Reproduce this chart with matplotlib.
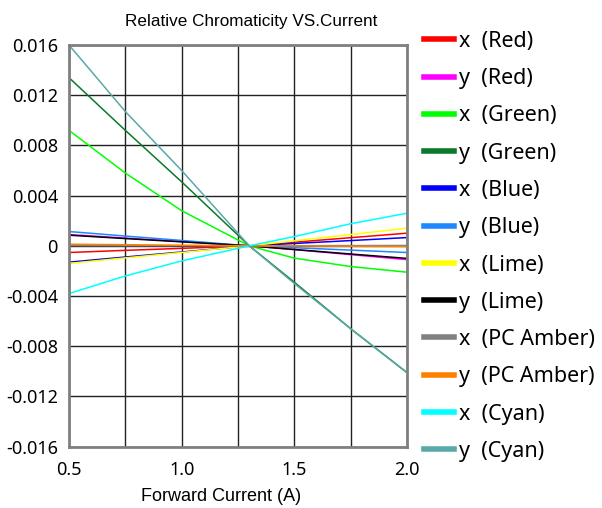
import matplotlib
matplotlib.use("Agg")
import matplotlib.pyplot as plt
from matplotlib.ticker import MultipleLocator, FixedLocator

plt.rcParams['axes.unicode_minus'] = False

# forward current (A)
current = [0.5, 0.75, 1.0, 1.3, 1.5, 1.75, 2.0]

# relative chromaticity shift
x_red = [-0.00053, -0.00036, -0.0002, 0.0, 0.00029, 0.00065, 0.00101]
y_red = [0.0009, 0.00062, 0.00034, 0.0, -0.0003, -0.0007, -0.0011]
x_green = [0.0092, 0.0058, 0.0028, 0.0, -0.00098, -0.00165, -0.0021]
y_green = [0.0134, 0.0092, 0.0051, 0.0, -0.0029, -0.0066, -0.0101]
x_blue = [-0.0013, -0.00089, -0.00049, 0.0, 0.00019, 0.00042, 0.00066]
y_blue = [0.00114, 0.00078, 0.00043, 0.0, -0.00015, -0.00034, -0.00053]
x_lime = [-0.0014, -0.00096, -0.00053, 0.0, 0.0004, 0.0009, 0.00141]
y_lime = [0.00085, 0.00058, 0.00032, 0.0, -0.00029, -0.00065, -0.001]
x_amber = [0.00002, 0.00001, 0.00001, 0.0, 0.00001, 0.00002, 0.00003]
y_amber = [0.00013, 0.00009, 0.00005, 0.0, -0.00001, -0.00003, -0.00005]
x_cyan = [-0.0038, -0.0024, -0.0012, 0.0, 0.00074, 0.00176, 0.0026]
y_cyan = [0.016, 0.0107, 0.006, 0.0, -0.003, -0.0066, -0.0101]

series = [
    ("x  (Red)", x_red, "#ff0000"),
    ("y  (Red)", y_red, "#ff00ff"),
    ("x  (Green)", x_green, "#00ff00"),
    ("y  (Green)", y_green, "#0a7a2a"),
    ("x  (Blue)", x_blue, "#0000ff"),
    ("y  (Blue)", y_blue, "#1e88ff"),
    ("x  (Lime)", x_lime, "#ffff00"),
    ("y  (Lime)", y_lime, "#000000"),
    ("x  (PC Amber)", x_amber, "#808080"),
    ("y  (PC Amber)", y_amber, "#ff8000"),
    ("x  (Cyan)", x_cyan, "#00ffff"),
    ("y  (Cyan)", y_cyan, "#5aa8a8"),
]

yticks = [0.016, 0.012, 0.008, 0.004, 0, -0.004, -0.008, -0.012, -0.016]
ytick_labels = ["0.016", "0.012", "0.008", "0.004", "0", "-0.004", "-0.008", "-0.012", "-0.016"]
xticks = [0.5, 1.0, 1.5, 2.0]
xtick_labels = ["0.5", "1.0", "1.5", "2.0"]

fig = plt.figure(figsize=(6.02, 5.08), dpi=100)
ax = fig.add_axes([0.1146, 0.1207, 0.5615, 0.7907])

for label, vals, color in series:
    ax.plot(current, vals, color=color, lw=1.1, label=label)

ax.set_xlim(0.5, 2.0)
ax.set_ylim(-0.016, 0.016)
ax.xaxis.set_major_locator(FixedLocator(xticks))
ax.xaxis.set_minor_locator(MultipleLocator(0.25))
ax.set_xticks(xticks, xtick_labels)
ax.set_yticks(yticks, ytick_labels)
ax.grid(True, which='both', color='#222222', lw=1.0)
ax.set_axisbelow(True)
ax.tick_params(which='both', length=0)
ax.tick_params(axis='y', pad=8)
ax.tick_params(axis='x', pad=10)
for lab in ax.get_xticklabels() + ax.get_yticklabels():
    lab.set_fontfamily('Noto Sans')
    lab.set_fontsize(13)
for sp in ax.spines.values():
    sp.set_color('#808080')
    sp.set_linewidth(2)

ax.set_title("Relative Chromaticity VS.Current", fontsize=12.3, family='Liberation Sans',
             x=0.538, pad=14)
ax.set_xlabel("Forward Current (A)", fontsize=13, family='Liberation Sans')
ax.xaxis.set_label_coords(0.45, -0.103)

handles, labels = ax.get_legend_handles_labels()
leg = fig.legend(handles, labels, loc='upper left', bbox_to_anchor=(0.704, 0.939),
                 frameon=False, prop={'family': 'Noto Sans', 'size': 15.5},
                 handlelength=1.4, handletextpad=0.23, labelspacing=0.755,
                 borderaxespad=0, borderpad=0)
for line in leg.get_lines():
    line.set_linewidth(4)

fig.savefig("out.png", dpi=100)
